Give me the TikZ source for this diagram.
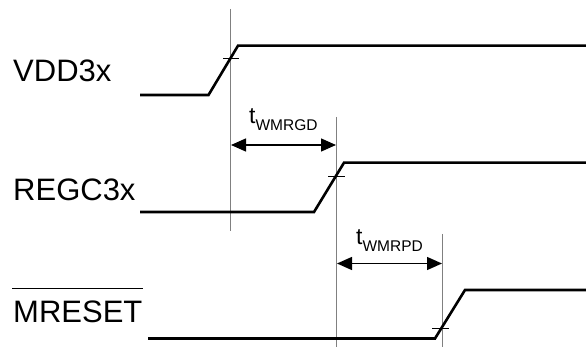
\documentclass[tikz,border=0pt]{standalone}
\usepackage{fontspec}
\setmainfont{Liberation Sans}
\usetikzlibrary{arrows.meta}
\begin{document}
\begin{tikzpicture}[x=1pt,y=-1pt,
  wave/.style={line width=2.6pt,line join=miter},
  guide/.style={line width=0.9pt,draw=black!50},
  tickmark/.style={line width=0.7pt,draw=black},
  dim/.style={line width=1.4pt,{Triangle[length=15pt,width=13pt]}-{Triangle[length=15pt,width=13pt]}},
  sig/.style={font=\fontsize{31}{31}\selectfont,anchor=base west,inner sep=0pt},
  tlab/.style={anchor=base west,inner sep=0pt}]
\useasboundingbox (0,0) rectangle (586,347);
% coordinates
\coordinate (v0) at (140,95); \coordinate (v1) at (208.5,95);
\coordinate (v2) at (238,45.7); \coordinate (v3) at (586,45.7);
\coordinate (r0) at (140,212); \coordinate (r1) at (314,212);
\coordinate (r2) at (344,162.7); \coordinate (r3) at (586,162.7);
\coordinate (m0) at (148,338.5); \coordinate (m1) at (435,338.5);
\coordinate (m2) at (465,290); \coordinate (m3) at (586,290);
% guides
\coordinate (ga) at (230.7,9); \coordinate (gb) at (230.7,231);
\coordinate (gc) at (336.3,117); \coordinate (gd) at (336.3,347);
\coordinate (ge) at (442,234); \coordinate (gf) at (442,347);
\draw[guide] (ga) -- (gb);
\draw[guide] (gc) -- (gd);
\draw[guide] (ge) -- (gf);
% waveforms
\draw[wave] (v0) -- (v1) -- (v2) -- (v3);
\draw[wave] (r0) -- (r1) -- (r2) -- (r3);
\draw[wave] (m0) -- (m1) -- (m2) -- (m3);
% crossing ticks
\coordinate (ta1) at (223,58.5); \coordinate (ta2) at (238.5,58.5);
\coordinate (tb1) at (328,176); \coordinate (tb2) at (345,176);
\coordinate (tc1) at (432,328.5); \coordinate (tc2) at (449,328.5);
\draw[tickmark] (ta1) -- (ta2);
\draw[tickmark] (tb1) -- (tb2);
\draw[tickmark] (tc1) -- (tc2);
% dimension arrows
\coordinate (a1) at (231,145); \coordinate (a2) at (336,145);
\coordinate (b1) at (337,263.5); \coordinate (b2) at (442,263.5);
\draw[dim] (a1) -- (a2);
\draw[dim] (b1) -- (b2);
% labels
\node[sig] (lv) at (13,82) {VDD3x};
\node[sig] (lr) at (13,201) {REGC3x};
\node[sig] (lm) at (13,322) {MRESET};
\coordinate (ov1) at (12,288.5); \coordinate (ov2) at (143,288.5);
\draw[line width=1.6pt] (ov1) -- (ov2);
\node[tlab] (tg) at (249,123.5) {\fontsize{23}{23}\selectfont t\raisebox{-7pt}{\fontsize{15.5}{15.5}\selectfont WMRGD}};
\node[tlab] (tp) at (356,245) {\fontsize{23}{23}\selectfont t\raisebox{-7pt}{\fontsize{15.5}{15.5}\selectfont WMRPD}};
\end{tikzpicture}
\end{document}
